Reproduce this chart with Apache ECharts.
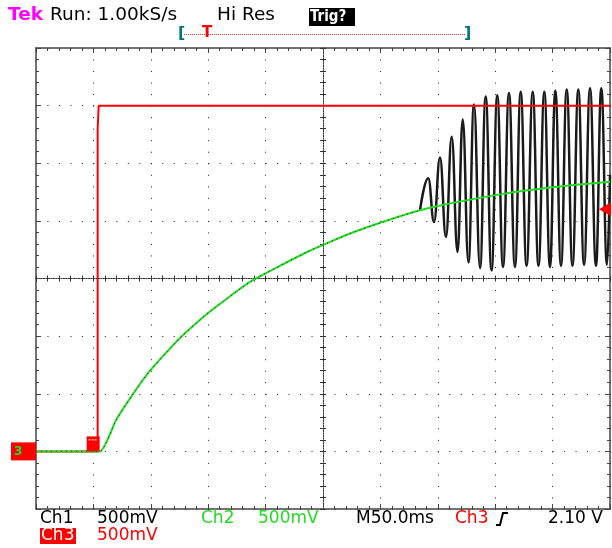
<!DOCTYPE html>
<html><head><meta charset="utf-8">
<script src="https://cdn.jsdelivr.net/npm/echarts@6/dist/echarts.min.js"></script>
<style>html,body{margin:0;padding:0;background:#fff}#c{width:612px;height:548px}</style>
</head><body><div id="c"></div>
<script>
// ---- data (time in ms, voltage in V) ----
const timeAxis = { min: 0, max: 500, interval: 50 };      // M 50.0 ms/div
const voltAxis = { min: -0.5, max: 3.5, interval: 0.5 };  // 500 mV/div
const triggerLevel = 2.10;

const ch3Time  = [0, 53.7, 53.7, 54.6, 54.6, 500];
const ch3Volts = [0, 0,    2.80, 2.80, 3.00, 3.00];

const ch2Time  = [0, 55.7, 69.7, 84,   99.3, 125,  149.8, 186.4, 236.1, 273.5, 317.1, 345.8, 404.2, 447.7, 500];
const ch2Volts = [0, 0,    0.27, 0.49, 0.70, 0.98, 1.20,  1.47,  1.73,  1.89,  2.04,  2.12,  2.23,  2.29,  2.34];

const ch1Time  = [0, 55.7, 69.7, 84, 99.3, 125, 149.8, 186.4, 236.1, 273.5, 317.1, 334.5,
  341.7, 346.7, 351.9, 357.1, 362.1, 367.2, 371.7, 376.7, 381.5, 386.8, 391.7, 396.8,
  401.8, 406.8, 412.0, 417.2, 422.2, 427.3, 432.7, 437.7, 442.8, 447.7, 452.4, 457.3,
  462.3, 467.3, 472.4, 477.4, 482.6, 487.8, 492.4, 497.4, 500];
const ch1Volts = [0, 0, 0.27, 0.49, 0.70, 0.98, 1.20, 1.47, 1.73, 1.89, 2.04, 2.09,
  2.37, 1.99, 2.55, 1.86, 2.73, 1.73, 2.88, 1.64, 3.01, 1.59, 3.08, 1.57,
  3.09, 1.60, 3.11, 1.60, 3.12, 1.61, 3.12, 1.61, 3.12, 1.60, 3.13, 1.61,
  3.14, 1.61, 3.14, 1.62, 3.15, 1.61, 3.15, 1.62, 2.40];
const ch1EarlyCount = 12;   // points before the oscillation starts

const zip = (a, b) => a.map((t, i) => [t, b[i]]);

const chart = echarts.init(document.getElementById('c'), null, { renderer: 'canvas' });
const GL = 36, GT = 48, GW = 574, GH = 461;
const frameColor = '#444';

function xAx(extra) {
  return Object.assign({
    type: 'value', min: timeAxis.min, max: timeAxis.max, interval: timeAxis.interval,
    axisLabel: { show: false }, splitLine: { show: false },
    axisLine: { show: true, onZero: false, lineStyle: { color: frameColor, width: 1.5 } },
    axisTick: { show: true, inside: true, length: 5, lineStyle: { color: frameColor } },
    minorTick: { show: true, splitNumber: 5, length: 3, lineStyle: { color: frameColor } }
  }, extra);
}
function yAx(extra) {
  return Object.assign({
    type: 'value', min: voltAxis.min, max: voltAxis.max, interval: voltAxis.interval,
    axisLabel: { show: false }, splitLine: { show: false },
    axisLine: { show: true, onZero: false, lineStyle: { color: frameColor, width: 1.5 } },
    axisTick: { show: true, inside: true, length: 5, lineStyle: { color: frameColor } },
    minorTick: { show: true, splitNumber: 5, length: 3, lineStyle: { color: frameColor } }
  }, extra);
}
const centerLine = { show: true, onZero: false, lineStyle: { color: '#333', width: 1, type: [1, 1.5] } };
const cTick = (inside) => ({ show: true, inside, length: 3, lineStyle: { color: '#333' } });
const cMinor = { show: true, splitNumber: 5, length: 3, lineStyle: { color: '#333' } };

chart.setOption({
  animation: false,
  backgroundColor: '#fff',
  grid: { left: GL, top: GT, width: GW, height: GH },
  xAxis: [
    xAx({ position: 'bottom', splitLine: { show: true, lineStyle: { color: '#222', width: 1, type: [1, GH / 40 - 1] } } }),
    xAx({ position: 'top' }),
    xAx({ position: 'bottom', offset: -GH / 2, axisLine: centerLine, axisTick: cTick(true), minorTick: cMinor }),
    xAx({ position: 'bottom', offset: -GH / 2, axisLine: centerLine, axisTick: cTick(false), minorTick: cMinor })
  ],
  yAxis: [
    yAx({ position: 'left', splitLine: { show: true, lineStyle: { color: '#222', width: 1, type: [1, GW / 50 - 1] } } }),
    yAx({ position: 'right' }),
    yAx({ position: 'left', offset: -GW / 2, axisLine: centerLine, axisTick: cTick(true), minorTick: cMinor }),
    yAx({ position: 'left', offset: -GW / 2, axisLine: centerLine, axisTick: cTick(false), minorTick: cMinor })
  ],
  series: [
    { name: 'Ch1', type: 'line', data: zip(ch1Time.slice(ch1EarlyCount - 1), ch1Volts.slice(ch1EarlyCount - 1)), showSymbol: false, smooth: 0.45, smoothMonotone: 'x',
      lineStyle: { color: '#1a1a1a', width: 2.5 }, z: 2 },
    { name: 'Ch3', type: 'line', data: zip(ch3Time, ch3Volts), showSymbol: false,
      lineStyle: { color: '#ff0000', width: 2 }, z: 3 },
    { name: 'Ch2', type: 'line', data: zip(ch2Time, ch2Volts), showSymbol: false, smooth: 0.15,
      lineStyle: { color: '#22dd22', width: 2 }, z: 4 },
    { name: 'Ch1 early', type: 'line', data: zip(ch1Time.slice(0, ch1EarlyCount), ch1Volts.slice(0, ch1EarlyCount)), showSymbol: false, smooth: 0.15,
      lineStyle: { color: '#222', width: 1, type: [1, 4] }, z: 5 }
  ]
});

const px = (t, v) => chart.convertToPixel({ gridIndex: 0 }, [t, v]);
const gnd = px(0, 0);
const trig = px(timeAxis.max, triggerLevel);
const stepPt = px(ch3Time[1], 0);
const F = '17px "DejaVu Sans", sans-serif';
const FT = '18.5px "DejaVu Sans", sans-serif';
const txt = (x, y, text, fill, font) => ({ type: 'text', x, y, style: { text, fill, font: font || F, verticalAlign: 'middle' }, z: 100 });

chart.setOption({
  graphic: [
    txt(8, 15, 'Tek', '#ff00ff', 'bold ' + FT),
    txt(50, 15, 'Run: 1.00kS/s', '#000', FT),
    txt(217, 15, 'Hi Res', '#000', FT),
    { type: 'rect', shape: { x: 309, y: 8, width: 46, height: 18 }, style: { fill: '#000' }, z: 99 },
    txt(310, 17, 'Trig?', '#fff', 'bold 15px "DejaVu Sans Condensed", "DejaVu Sans", sans-serif'),
    // record bracket
    txt(178, 34, '[', '#077', 'bold 16px "DejaVu Sans", sans-serif'),
    { type: 'line', shape: { x1: 184, y1: 34.5, x2: 465, y2: 34.5 }, style: { stroke: '#ff3030', lineWidth: 1, lineDash: [1, 1] }, z: 99 },
    txt(202, 33, 'T', '#ff0000', 'bold 15px "DejaVu Sans", sans-serif'),
    txt(464, 34, ']', '#077', 'bold 16px "DejaVu Sans", sans-serif'),
    // ground marker
    { type: 'rect', shape: { x: 11, y: gnd[1] - 9, width: 25, height: 18 }, style: { fill: '#ff0000' }, z: 99 },
    txt(14, gnd[1], '3', '#22dd22', 'bold 12px "DejaVu Sans", sans-serif'),
    // trigger point marker
    { type: 'rect', shape: { x: stepPt[0] - 11, y: gnd[1] - 15, width: 13, height: 15 }, style: { fill: '#ff0000' }, z: 99 },
    { type: 'line', shape: { x1: stepPt[0] - 9, y1: gnd[1] - 11.5, x2: stepPt[0], y2: gnd[1] - 11.5 }, style: { stroke: '#fff', lineWidth: 1, lineDash: [2, 1] }, z: 100 },
    // trigger level arrow
    { type: 'polygon', shape: { points: [[trig[0] - 11, trig[1]], [trig[0] + 1, trig[1] - 7], [trig[0] + 1, trig[1] + 7]] }, style: { fill: '#ff0000' }, z: 100 },
    // bottom status
    txt(40, 519, 'Ch1', '#000'),
    txt(97, 519, '500mV', '#000'),
    txt(201, 519, 'Ch2', '#22dd22'),
    txt(258, 519, '500mV', '#22dd22'),
    txt(356, 519, 'M50.0ms', '#000'),
    txt(455, 519, 'Ch3', '#ff0000'),
    { type: 'polyline', shape: { points: [[496, 525], [500, 525], [503, 513], [508, 513]] }, style: { stroke: '#000', lineWidth: 2, fill: null }, z: 100 },
    txt(548, 519, '2.10 V', '#000'),
    { type: 'rect', shape: { x: 40, y: 528, width: 36, height: 16 }, style: { fill: '#ff0000' }, z: 99 },
    txt(41, 536, 'Ch3', '#fff'),
    txt(97, 536, '500mV', '#ff0000')
  ]
});
</script>
</body></html>
